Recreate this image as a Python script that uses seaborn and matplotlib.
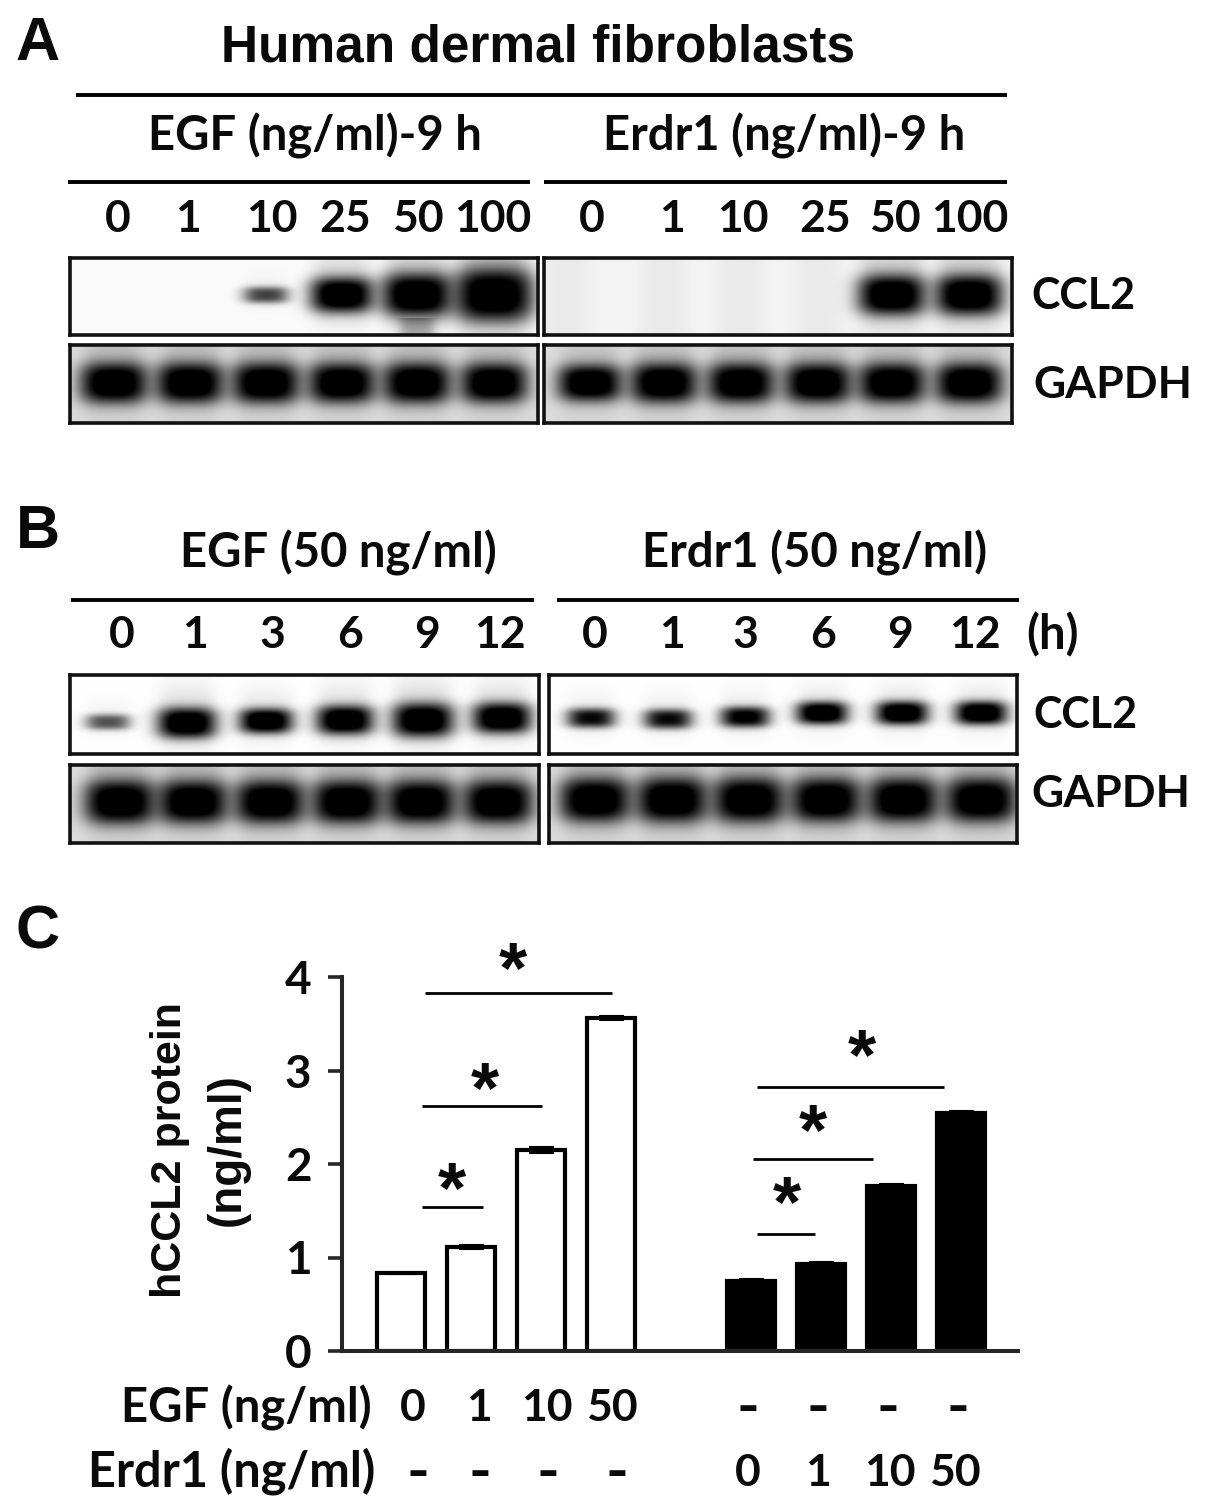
import numpy as np
import pandas as pd
import matplotlib
matplotlib.use('Agg')
import matplotlib.pyplot as plt
import seaborn as sns

W, H = 1205, 1507

# blot band signal per lane (read by eye, 0 = no band)
a_ccl2_egf = [0, 0, 0.22, 0.7, 0.9, 1.12]
a_ccl2_erdr1 = [0, 0, 0, 0, 0.82, 0.82]
a_gapdh_egf = [0.82, 0.82, 0.82, 0.8, 0.82, 0.8]
a_gapdh_erdr1 = [0.72, 0.8, 0.8, 0.8, 0.8, 0.8]
b_ccl2_egf = [0.2, 0.58, 0.44, 0.54, 0.66, 0.58]
b_ccl2_erdr1 = [0.3, 0.3, 0.33, 0.38, 0.4, 0.4]
b_gapdh_egf = [0.9, 0.88, 0.88, 0.88, 0.88, 0.88]
b_gapdh_erdr1 = [0.9, 0.92, 0.92, 0.9, 0.9, 0.9]

# ELISA bars
conditions = ['EGF 0', 'EGF 1', 'EGF 10', 'EGF 50', 'gap',
              'Erdr1 0', 'Erdr1 1', 'Erdr1 10', 'Erdr1 50']
groups = ['EGF', 'EGF', 'EGF', 'EGF', 'EGF', 'Erdr1', 'Erdr1', 'Erdr1', 'Erdr1']
ccl2_values = [0.83, 1.11, 2.15, 3.56, np.nan, 0.745, 0.935, 1.765, 2.55]
ccl2_errors = [0.005, 0.02, 0.03, 0.02, np.nan, 0.02, 0.02, 0.02, 0.02]
y_ticks = [0, 1, 2, 3, 4]

a_doses = ['0', '1', '10', '25', '50', '100']
b_hours = ['0', '1', '3', '6', '9', '12']
c_egf_row = ['0', '1', '10', '50', '-', '-', '-', '-']
c_erdr1_row = ['-', '-', '-', '-', '0', '1', '10', '50']

LABEL_FONT = 'Lato'
HEAD_FONT = 'Liberation Sans'


def px_axes(fig, x0, y0, x1, y1):
    # axes from pixel box, y counted from the top
    return fig.add_axes([x0 / W, 1 - y1 / H, (x1 - x0) / W, (y1 - y0) / H])


def blot_image(box, lanes, band_y, signal, bg, smear=None, pale_lanes=None):
    x0, y0, x1, y1 = box
    xx, yy = np.meshgrid(np.arange(x0, x1) + 0.5, np.arange(y0, y1) + 0.5)
    light = np.full(xx.shape, 1.0 - bg)
    if pale_lanes is not None:
        # faint lane shading on the empty part of the gel
        for cx in pale_lanes:
            light = light * (1 - 0.035 * np.exp(-((xx - cx) / 24) ** 4))
    for cx, cy, s in zip(lanes, band_y, signal):
        if s <= 0:
            continue
        hw = 19 + 17 * s
        hh = 4 + 19 * s
        dx = xx - cx
        dy = yy - cy
        peak = min(1.0, 2.6 * s)
        band = peak * np.exp(-(np.abs(dx) / hw) ** 3 - (np.abs(dy) / hh) ** 3)
        band = np.clip(band * 1.25, 0, 1)
        # soft halo, longer towards the top of the gel
        reach = np.where(dy < 0, hh * 2.0, hh * 1.4)
        halo = 0.36 * s * np.exp(-(np.abs(dx) / (hw * 0.95)) ** 4 - (dy / reach) ** 2)
        light = light * (1 - band) * (1 - halo)
    if smear is not None:
        cx, top = smear
        light = light * (1 - 0.3 * np.exp(-((xx - cx) / 18) ** 4) * (yy > top))
    return light


def draw_blot(fig, box, lanes, band_y, signal, bg, smear=None, pale_lanes=None):
    ax = px_axes(fig, *box)
    img = blot_image(box, lanes, band_y, signal, bg, smear, pale_lanes)
    sns.heatmap(img, cmap='gray', vmin=0, vmax=1, cbar=False,
                xticklabels=False, yticklabels=False, ax=ax, rasterized=True)
    for sp in ax.spines.values():
        sp.set_visible(True)
        sp.set_color('#111111')
        sp.set_linewidth(2.6)
    return ax


def draw_bars(fig):
    ax = px_axes(fig, 342, 977, 1018, 1351)
    data = pd.DataFrame({'condition': conditions, 'group': groups, 'value': ccl2_values})
    sns.barplot(data=data, x='condition', y='value', hue='group', order=conditions,
                palette={'EGF': 'white', 'Erdr1': 'black'}, dodge=False, width=0.68,
                edgecolor='black', linewidth=3.0, legend=False, errorbar=None, ax=ax)
    ax.errorbar(range(len(conditions)), ccl2_values, yerr=ccl2_errors, fmt='none',
                ecolor='black', elinewidth=1.5, capsize=9, capthick=1.5)
    ax.set_xlim(-0.843, 8.81)
    ax.set_ylim(0, 4)
    ax.set_yticks(y_ticks)
    ax.set_xticks([])
    ax.set_xlabel('')
    ax.set_ylabel('')
    ax.patch.set_alpha(0)
    sns.despine(ax=ax)
    ax.spines['left'].set_linewidth(2.9)
    ax.spines['bottom'].set_linewidth(2.9)
    ax.tick_params(axis='y', direction='out', length=10, width=2.6, pad=12, left=True,
                   labelcolor='#0a0a0a')
    for lab in ax.get_yticklabels():
        lab.set_fontfamily(LABEL_FONT)
        lab.set_fontweight('bold')
        lab.set_fontsize(33)
    return ax


def label(ov, x, y, s, size=31, family=LABEL_FONT, ha='center', rotation=0):
    # hyphens come out thin in Lato, so they get a bigger size
    if s == '-':
        size = 44
    dy = 0 if rotation else 3
    ov.text(x, y + dy, s, fontsize=size, family=family, fontweight='bold', ha=ha,
            va='center', rotation=rotation, color='#0a0a0a')


def rule(ov, x0, x1, y, lw=2.8):
    ov.plot([x0, x1], [y, y], color='black', lw=lw, solid_capstyle='butt')


def draw_overlay(fig):
    ov = fig.add_axes([0, 0, 1, 1], zorder=10)
    ov.set_xlim(0, W)
    ov.set_ylim(H, 0)
    ov.axis('off')

    # panel letters
    label(ov, 38, 42, 'A', 44, HEAD_FONT)
    label(ov, 38, 530, 'B', 44, HEAD_FONT)
    label(ov, 38, 930, 'C', 44, HEAD_FONT)

    # panel A text
    label(ov, 538, 45, 'Human dermal fibroblasts', 37, HEAD_FONT)
    rule(ov, 76, 1007, 95)
    label(ov, 315, 133, 'EGF (ng/ml)-9 h', 34)
    label(ov, 784, 133, 'Erdr1 (ng/ml)-9 h', 34)
    rule(ov, 68, 530, 182)
    rule(ov, 544, 1007, 182)
    for x, s in zip([118, 188, 272, 345, 418, 493, 592, 672, 743, 825, 895, 970], a_doses * 2):
        label(ov, x, 216, s, 32)
    label(ov, 1083, 293, 'CCL2')
    label(ov, 1113, 382, 'GAPDH', 32)

    # panel B text
    label(ov, 338, 550, 'EGF (50 ng/ml)', 34)
    label(ov, 815, 550, 'Erdr1 (50 ng/ml)', 34)
    rule(ov, 71, 534, 600)
    rule(ov, 557, 1019, 600)
    for x, s in zip([122, 195, 272, 350, 427, 500, 595, 672, 745, 823, 900, 975], b_hours * 2):
        label(ov, x, 632, s, 32)
    label(ov, 1053, 632, '(h)', 34)
    label(ov, 1085, 712, 'CCL2')
    label(ov, 1111, 791, 'GAPDH', 32)

    # panel C text
    label(ov, 170, 1150, 'hCCL2 protein', 31, HEAD_FONT, rotation=90)
    label(ov, 228, 1150, '(ng/ml)', 33, HEAD_FONT, rotation=90)
    label(ov, 372, 1405, 'EGF (ng/ml)', 34, ha='right')
    label(ov, 375, 1468, 'Erdr1 (ng/ml)', 35, ha='right')
    for x, s in zip([413, 479, 547, 612, 748, 818, 888, 958], c_egf_row):
        label(ov, x, 1405, s, 32)
    for x, s in zip([418, 480, 548, 617, 748, 818, 890, 955], c_erdr1_row):
        label(ov, x, 1470, s, 32)

    # significance lines and stars
    for x0, x1, y, sx, sy in [(425, 612, 993, 513, 970), (422, 542, 1106, 485, 1090),
                              (422, 483, 1207, 452, 1190), (757, 944, 1087, 862, 1057),
                              (753, 873, 1159, 813, 1132), (757, 815, 1234, 787, 1204)]:
        rule(ov, x0, x1, y, 2.0)
        label(ov, sx, sy, '*', 52, HEAD_FONT)


if __name__ == "__main__":
    sns.set_style('white')
    plt.rcParams['font.family'] = [LABEL_FONT, 'DejaVu Sans']
    fig = plt.figure(figsize=(W / 100, H / 100), dpi=100)

    a_left = [114, 190, 266, 342, 417, 494]
    a_right = [590, 664, 741, 818, 892, 969]
    draw_blot(fig, (70, 258, 538, 335), a_left, [295] * 6, a_ccl2_egf, 0.02, smear=(417, 318))
    draw_blot(fig, (544, 258, 1012, 335), a_right, [295] * 6, a_ccl2_erdr1, 0.05,
              pale_lanes=[566, 664, 741, 818])
    draw_blot(fig, (70, 345, 538, 423), a_left, [383] * 6, a_gapdh_egf, 0.14)
    draw_blot(fig, (544, 345, 1012, 423), a_right, [383] * 6, a_gapdh_erdr1, 0.14)

    b_left = [108, 187, 266, 345, 423, 502]
    b_right = [591, 668, 745, 822, 902, 981]
    draw_blot(fig, (70, 675, 539, 754), b_left, [722, 723, 721, 720, 720, 718], b_ccl2_egf, 0.01)
    draw_blot(fig, (549, 675, 1017, 754), b_right, [718, 719, 717, 713, 713, 713], b_ccl2_erdr1, 0.01)
    draw_blot(fig, (70, 765, 539, 843), [120, 193, 270, 347, 421, 498], [802] * 6, b_gapdh_egf, 0.14)
    draw_blot(fig, (549, 765, 1017, 843), [595, 672, 749, 826, 903, 981], [800] * 6, b_gapdh_erdr1, 0.14)

    draw_bars(fig)
    draw_overlay(fig)

    plt.savefig('out.png', dpi=100)
